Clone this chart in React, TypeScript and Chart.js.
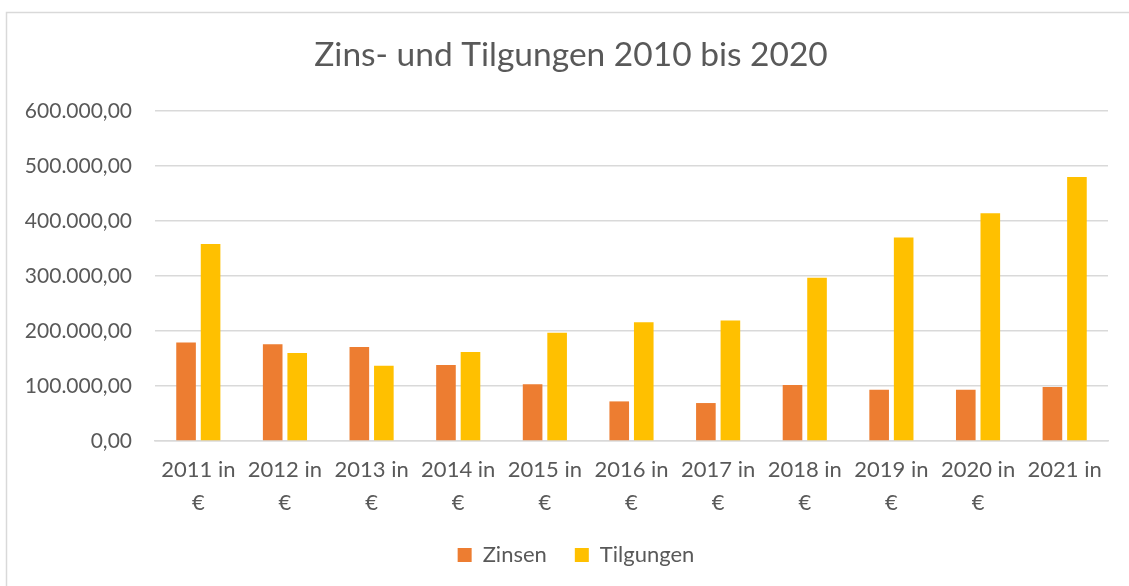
import React, { useEffect, useRef } from "react";
import { Chart, registerables } from "chart.js";

Chart.register(...registerables);

const chartTitle = "Zins- und Tilgungen 2010 bis 2020";
const categories: string[][] = [
  ["2011 in", "€"],
  ["2012 in", "€"],
  ["2013 in", "€"],
  ["2014 in", "€"],
  ["2015 in", "€"],
  ["2016 in", "€"],
  ["2017 in", "€"],
  ["2018 in", "€"],
  ["2019 in", "€"],
  ["2020 in", "€"],
  ["2021 in"],
];
const zinsen = [179000, 176000, 171000, 138000, 103000, 72000, 69000, 102000, 93000, 93000, 98000];
const tilgungen = [358000, 160000, 137000, 162000, 197000, 216000, 219000, 297000, 370000, 414000, 480000];
const yTicks = [0, 100000, 200000, 300000, 400000, 500000, 600000];

const FONT = "Lato, 'Open Sans', sans-serif";
const TEXT = "#595959";
const GRID = "#d9d9d9";

function fmtDE(v: number): string {
  const int = Math.round(v).toString().replace(/\B(?=(\d{3})+(?!\d))/g, ".");
  return int + ",00";
}

const framePlugin = {
  id: "frame",
  beforeDraw(chart: any) {
    const ctx = chart.ctx;
    ctx.save();
    ctx.fillStyle = "#ffffff";
    ctx.fillRect(0, 0, chart.width, chart.height);
    ctx.strokeStyle = GRID;
    ctx.lineWidth = 1.5;
    ctx.beginPath();
    ctx.moveTo(6.5, chart.height);
    ctx.lineTo(6.5, 12.5);
    ctx.lineTo(chart.width, 12.5);
    ctx.stroke();
    ctx.restore();
  },
};

// Centre the title and legend on the outer chart frame rather than the padded area
const centrePlugin = {
  id: "centreBoxes",
  afterLayout(chart: any) {
    const t = chart.titleBlock;
    if (t) {
      t.left += 10;
      t.right += 10;
    }
    const l = chart.legend;
    if (l) {
      l.left += 15;
      l.right += 15;
    }
  },
};

export default function App() {
  const ref = useRef<HTMLCanvasElement | null>(null);
  useEffect(() => {
    document.body.style.margin = "0";
    const canvas = ref.current!;
    const chart = new Chart(canvas, {
      type: "bar",
      data: {
        labels: categories,
        datasets: [
          { label: "Zinsen", data: zinsen, backgroundColor: "#ED7D31", borderWidth: 0 },
          { label: "Tilgungen", data: tilgungen, backgroundColor: "#FFC000", borderWidth: 0 },
        ],
      },
      plugins: [framePlugin, centrePlugin],
      options: {
        animation: false,
        responsive: false,
        maintainAspectRatio: false,
        devicePixelRatio: 1,
        layout: { padding: { left: 14, right: 21, top: 0, bottom: 10 } },
        datasets: { bar: { barPercentage: 0.8, categoryPercentage: 0.566 } },
        plugins: {
          title: {
            display: true,
            text: chartTitle,
            color: TEXT,
            font: { family: FONT, size: 33.5, weight: "normal", lineHeight: 1.2 },
            padding: { top: 35, bottom: 35.8 },
          },
          legend: {
            position: "bottom",
            labels: {
              color: TEXT,
              font: { family: FONT, size: 22 },
              boxWidth: 14,
              boxHeight: 14,
              padding: 28,
            },
          },
          tooltip: { enabled: false },
        },
        scales: {
          x: {
            grid: { display: false, drawTicks: false },
            border: { display: true, color: GRID, width: 1.5 },
            ticks: {
              color: TEXT,
              font: { family: FONT, size: 22, lineHeight: 1.5 },
              padding: 12.5,
              maxRotation: 0,
              autoSkip: false,
            },
            afterFit(scale: any) {
              scale.height = 75;
            },
          },
          y: {
            min: 0,
            max: 600000,
            afterBuildTicks(scale: any) {
              scale.ticks = yTicks.map((v) => ({ value: v }));
            },
            grid: { color: GRID, lineWidth: 1.5, drawTicks: false },
            border: { display: false },
            ticks: {
              color: TEXT,
              font: { family: FONT, size: 21 },
              padding: 23,
              callback: (v: any) => fmtDE(Number(v)),
            },
            afterFit(scale: any) {
              scale.width = 141;
            },
          },
        },
      },
    });
    return () => chart.destroy();
  }, []);
  return (
    <div style={{ width: 1129, height: 586, position: "relative" }}>
      <canvas ref={ref} width={1129} height={586} style={{ width: 1129, height: 586, display: "block" }} />
    </div>
  );
}
